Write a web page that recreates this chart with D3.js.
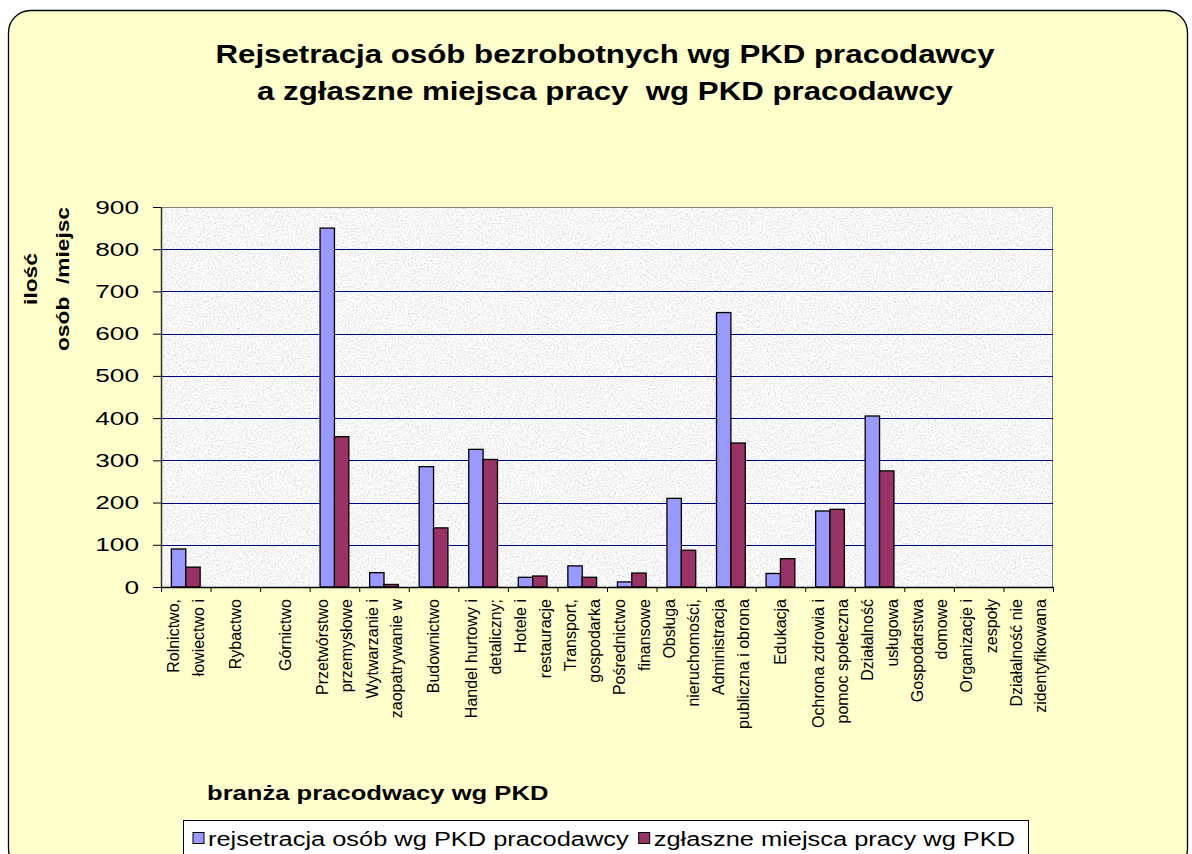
<!DOCTYPE html>
<html lang="pl">
<head>
<meta charset="utf-8">
<script src="https://cdnjs.cloudflare.com/ajax/libs/d3/7.8.5/d3.min.js"></script>
<style>
  body { margin: 0; background: #fff; }
  text { font-family: Arial, "Liberation Sans", sans-serif; white-space: pre; }
</style>
</head>
<body>
<div id="chart"></div>

<script>
// branże wg PKD (linie etykiet rozdzielone \n)
var categories = [
  "Rolnictwo,\nłowiectwo i", "Rybactwo", "Górnictwo", "Przetwórstwo\nprzemysłowe",
  "Wytwarzanie i\nzaopatrywanie w", "Budownictwo", "Handel hurtowy i\ndetaliczny;",
  "Hotele i\nrestauracje", "Transport,\ngospodarka", "Pośrednictwo\nfinansowe",
  "Obsługa\nnieruchomości,", "Administracja\npubliczna i obrona", "Edukacja",
  "Ochrona zdrowia i\npomoc społeczna", "Działalność\nusługowa", "Gospodarstwa\ndomowe",
  "Organizacje i\nzespoły", "Działalność nie\nzidentyfikowana"
];
var registered = [90, 0, 0, 850, 34, 285, 326, 23, 50, 12, 210, 650, 32, 180, 405, 0, 0, 0];
var offers     = [47, 0, 0, 356, 6, 140, 302, 26, 23, 33, 87, 341, 67, 184, 275, 0, 0, 0];
var seriesNames = ["rejsetracja osób wg PKD pracodawcy", "zgłaszne miejsca pracy wg PKD"];
var yTicks = [0, 100, 200, 300, 400, 500, 600, 700, 800, 900];

var W = 1192, H = 854;
var plot = {left: 161, top: 207, right: 1053, bottom: 587};
var colors = ["#9999ff", "#993366"];

var svg = d3.select("#chart").append("svg")
    .attr("width", W)
    .attr("height", H);

var defs = svg.append("defs");
var f = defs.append("filter").attr("id", "granite")
    .attr("x", 0).attr("y", 0).attr("width", "100%").attr("height", "100%");
f.append("feTurbulence").attr("type", "fractalNoise")
    .attr("baseFrequency", 0.6).attr("numOctaves", 3).attr("seed", 4);
f.append("feColorMatrix").attr("type", "matrix")
    .attr("values", "0.34 0.34 0.34 0 0.41  0.34 0.34 0.34 0 0.41  0.34 0.34 0.34 0 0.41  0 0 0 0 1");

// tło wykresu
svg.append("rect")
    .attr("x", 8.5).attr("y", 10.5)
    .attr("width", 1179).attr("height", 860)
    .attr("rx", 22)
    .attr("fill", "#ffffcc")
    .attr("stroke", "#000")
    .attr("stroke-width", 1.3);

// tytuł
var title = ["Rejsetracja osób bezrobotnych wg PKD pracodawcy",
             "a zgłaszne miejsca pracy  wg PKD pracodawcy"];
title.forEach(function(t, i) {
  svg.append("text")
    .attr("transform", "translate(605," + (63 + i * 37) + ") scale(1.22,1)")
    .attr("text-anchor", "middle")
    .style("font-size", "25.6px")
    .style("font-weight", "bold")
    .text(t);
});

var x0 = d3.scaleBand()
    .domain(d3.range(categories.length))
    .range([plot.left, plot.right]);
var bw = x0.bandwidth();
var x1 = d3.scaleBand()
    .domain([0, 1])
    .range([bw * 0.21, bw * 0.79]);
var y = d3.scaleLinear()
    .domain([0, 900])
    .range([plot.bottom, plot.top]);

// obszar kreślenia
svg.append("rect")
    .attr("x", plot.left).attr("y", plot.top)
    .attr("width", plot.right - plot.left).attr("height", plot.bottom - plot.top)
    .attr("filter", "url(#granite)");
svg.append("rect")
    .attr("x", plot.left + 0.5).attr("y", plot.top + 0.5)
    .attr("width", plot.right - plot.left - 1).attr("height", plot.bottom - plot.top)
    .attr("fill", "none")
    .attr("stroke", "#808080");

// linie siatki
svg.append("g")
  .selectAll("line")
  .data(yTicks.filter(function(d) { return d > 0 && d < 900; }))
  .enter().append("line")
    .attr("x1", plot.left).attr("x2", plot.right)
    .attr("y1", function(d) { return Math.round(y(d)) + 0.5; })
    .attr("y2", function(d) { return Math.round(y(d)) + 0.5; })
    .attr("stroke", "#000080")
    .attr("stroke-width", 1);

// słupki
var groups = svg.append("g")
  .selectAll("g")
  .data(categories.map(function(c, i) { return [registered[i], offers[i]]; }))
  .enter().append("g")
    .attr("transform", function(d, i) { return "translate(" + x0(i) + ",0)"; });

groups.selectAll("rect")
  .data(function(d) { return d.map(function(v, k) { return {k: k, v: v}; }).filter(function(e) { return e.v > 0; }); })
  .enter().append("rect")
    .attr("x", function(d) { return x1(d.k); })
    .attr("y", function(d) { return y(d.v); })
    .attr("width", x1.bandwidth())
    .attr("height", function(d) { return y(0) - y(d.v); })
    .attr("fill", function(d) { return colors[d.k]; })
    .attr("stroke", "#000")
    .attr("stroke-width", 1.3);

// oś Y
var yAxis = svg.append("g")
    .attr("transform", "translate(" + plot.left + ",0)")
    .call(d3.axisLeft(y).tickValues(yTicks).tickSize(8).tickSizeOuter(0).tickPadding(14));
yAxis.select(".domain").attr("stroke", "#333").attr("stroke-width", 1.5);
yAxis.selectAll(".tick line").attr("stroke", "#000");
yAxis.selectAll(".tick text")
    .attr("x", -22 / 1.38)
    .attr("transform", "scale(1.38,1)")
    .attr("fill", "#000")
    .style("font-size", "19px");

// oś X (znaczniki na granicach kategorii)
var xb = d3.scaleLinear().domain([0, categories.length]).range([plot.left, plot.right]);
var xAxis = svg.append("g")
    .attr("transform", "translate(0," + plot.bottom + ")")
    .call(d3.axisBottom(xb).tickValues(d3.range(categories.length + 1)).tickFormat("").tickSize(5).tickSizeOuter(0));
xAxis.select(".domain").attr("stroke", "#000").attr("stroke-width", 1.3);
xAxis.selectAll(".tick line").attr("stroke", "#000");

// etykiety kategorii
var labels = svg.append("g")
  .selectAll("g")
  .data(categories)
  .enter().append("g")
    .attr("transform", function(d, i) { return "translate(" + (x0(i) + bw / 2) + ",599)"; });
labels.each(function(d) {
  var lines = d.split("\n");
  var g = d3.select(this);
  lines.forEach(function(l, j) {
    var off = (j - (lines.length - 1) / 2) * 24.5;
    g.append("text")
      .attr("transform", "translate(" + off + ",0) rotate(-90)")
      .attr("text-anchor", "end")
      .attr("dy", "0.36em")
      .style("font-size", "16px")
      .text(l);
  });
});

// tytuł osi Y
[["ilość", 31], ["osób  /miejsc", 63]].forEach(function(p) {
  svg.append("text")
    .attr("transform", "translate(" + p[1] + ",279) rotate(-90) scale(1.3,1)")
    .attr("text-anchor", "middle")
    .attr("dy", "0.36em")
    .style("font-size", "17.5px")
    .style("font-weight", "bold")
    .text(p[0]);
});

// tytuł osi X
svg.append("text")
    .attr("transform", "translate(207,800) scale(1.28,1)")
    .style("font-size", "20px")
    .style("font-weight", "bold")
    .text("branża pracodwacy wg PKD");

// legenda
svg.append("rect")
    .attr("x", 183.5).attr("y", 820.5)
    .attr("width", 845).attr("height", 50)
    .attr("fill", "#fff")
    .attr("stroke", "#000");
var lx = 193;
seriesNames.forEach(function(name, i) {
  svg.append("rect")
    .attr("x", lx).attr("y", 832.5)
    .attr("width", 11).attr("height", 11)
    .attr("fill", colors[i])
    .attr("stroke", "#000");
  var t = svg.append("text")
    .attr("transform", "translate(" + (lx + 15) + ",846) scale(1.27,1)")
    .style("font-size", "20px")
    .text(name);
  lx += 15 + t.node().getComputedTextLength() * 1.27 + 10;
});
</script>
</body>
</html>
